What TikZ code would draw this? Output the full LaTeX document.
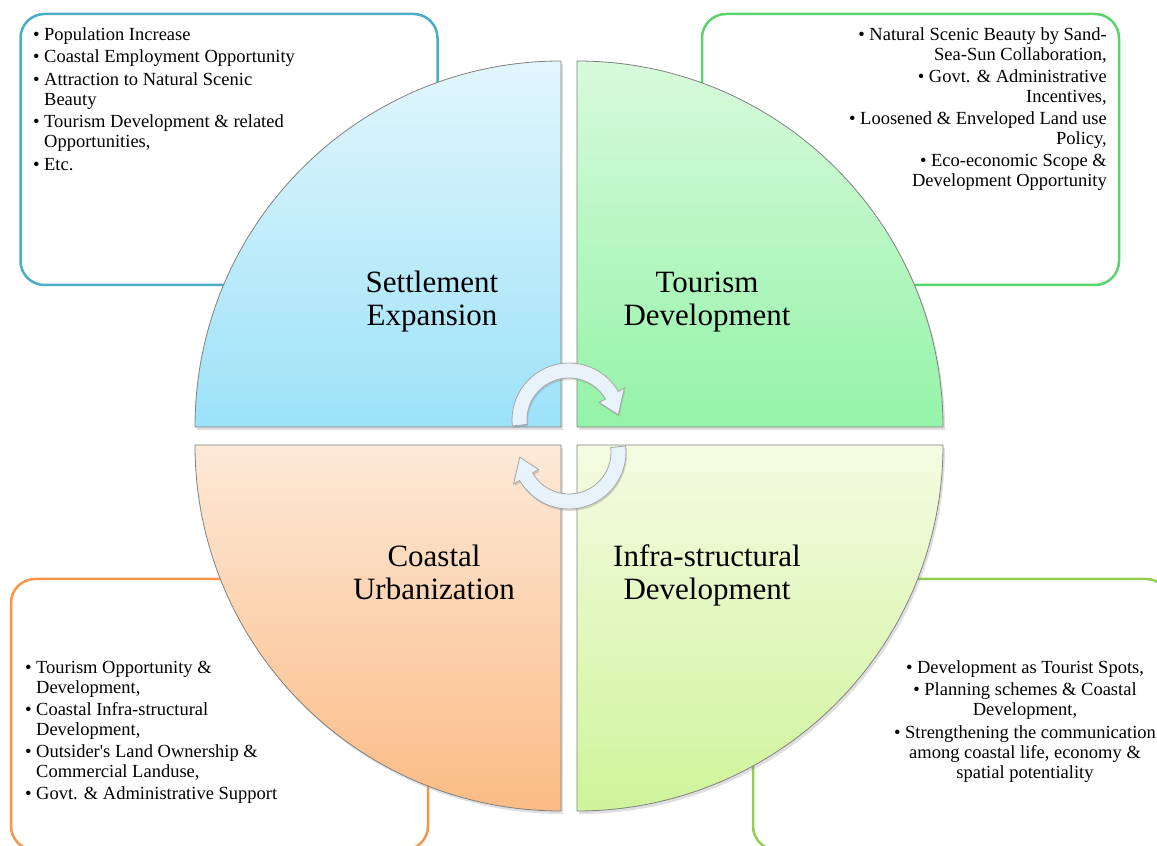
\documentclass[tikz,border=0pt]{standalone}
\usepackage{fontspec}
\setmainfont{Liberation Serif}
\usepackage{tikz}
\usetikzlibrary{shadows}

\definecolor{settleline}{HTML}{4BACC6}
\definecolor{tourline}{HTML}{5AD46C}
\definecolor{urbanline}{HTML}{F79646}
\definecolor{infraline}{HTML}{92D050}
\definecolor{settletop}{HTML}{E2F6FC}
\definecolor{settlebot}{HTML}{9CE2F9}
\definecolor{tourtop}{HTML}{D8FADC}
\definecolor{tourbot}{HTML}{94F3A8}
\definecolor{urbantop}{HTML}{FDE9D8}
\definecolor{urbanbot}{HTML}{FBBB84}
\definecolor{infratop}{HTML}{F4FBE2}
\definecolor{infrabot}{HTML}{CFF49A}
\definecolor{turnfill}{HTML}{E8F2FA}

\newcommand{\listfont}{\fontsize{18.5}{20}\selectfont}
\newcommand{\headfont}{\fontsize{31}{33}\selectfont}

\begin{document}
\begin{tikzpicture}[x=1pt, y=1pt,
  infobox/.style={draw, line width=2.5pt, rounded corners=24pt, fill=white,
    minimum width=417, minimum height=271, inner sep=0pt},
  quad/.style={draw=black!50, line width=0.8pt,
    drop shadow={shadow xshift=2pt, shadow yshift=-3pt, opacity=0.25}},
  turn/.style={fill=turnfill, draw=black!35, line width=0.8pt,
    drop shadow={shadow xshift=1pt, shadow yshift=-2pt, opacity=0.3}},
  head/.style={inner sep=0pt, font=\headfont},
  items/.style={inner sep=0pt, font=\listfont}]

\useasboundingbox (0,0) rectangle (1157,846);
\clip (0,0) rectangle (1157,846);

% boxes behind the circle
\node[infobox, draw=settleline] (settlebox) at (229,696.5) {};
\node[infobox, draw=tourline] (tourbox) at (910.5,696.5) {};
\node[infobox, draw=urbanline] (urbanbox) at (219.5,131.5) {};
\node[infobox, draw=infraline] (infrabox) at (961.5,131.5) {};

% the four quarters
\path[quad, top color=settletop, bottom color=settlebot]
  (561,419) -- (195,419) arc[start angle=180, end angle=90, radius=366] -- cycle;
\path[quad, top color=tourtop, bottom color=tourbot]
  (577,419) -- (577,785) arc[start angle=90, end angle=0, radius=366] -- cycle;
\path[quad, top color=urbantop, bottom color=urbanbot]
  (561,401) -- (561,35) arc[start angle=270, end angle=180, radius=366] -- cycle;
\path[quad, top color=infratop, bottom color=infrabot]
  (577,401) -- (943,401) arc[start angle=0, end angle=-90, radius=366] -- cycle;

% turning arrows
\begin{scope}[shift={(569,426)}]
  \path[turn] (186:57) arc[start angle=186, end angle=30, radius=57] -- (30:64)
    -- (6:49.5) -- (30:35) -- (30:42) arc[start angle=30, end angle=186, radius=42] -- cycle;
\end{scope}
\begin{scope}[shift={(569,394)}, rotate=180]
  \path[turn] (186:57) arc[start angle=186, end angle=30, radius=57] -- (30:64)
    -- (6:49.5) -- (30:35) -- (30:42) arc[start angle=30, end angle=186, radius=42] -- cycle;
\end{scope}

\node[head] (settle) at (432,544) {\begin{tabular}{@{}c@{}}Settlement\\Expansion\end{tabular}};
\node[head] (tour) at (707,544) {\begin{tabular}{@{}c@{}}Tourism\\Development\end{tabular}};
\node[head] (urban) at (434,270) {\begin{tabular}{@{}c@{}}Coastal\\Urbanization\end{tabular}};
\node[head] (infra) at (707,270) {\begin{tabular}{@{}c@{}}Infra-structural\\Development\end{tabular}};

\node[items, anchor=north west] (settlelist) at (33,820) {\begin{tabular}{@{}l@{\hspace{4.5pt}}l@{}}
  \textbullet & Population Increase\\[2.5pt]
  \textbullet & Coastal Employment Opportunity\\[2.5pt]
  \textbullet & Attraction to Natural Scenic\\
              & Beauty\\[2.5pt]
  \textbullet & Tourism Development \& related\\
              & Opportunities,\\[2.5pt]
  \textbullet & Etc.
\end{tabular}};

\node[items, anchor=north east] (tourlist) at (1107,820) {\begin{tabular}{@{}r@{}}
  \textbullet{} Natural Scenic Beauty by Sand-\\
  Sea-Sun Collaboration,\\[2pt]
  \textbullet{} Govt. \& Administrative\\
  Incentives,\\[2pt]
  \textbullet{} Loosened \& Enveloped Land use\\
  Policy,\\[2pt]
  \textbullet{} Eco-economic Scope \&\\
  Development Opportunity
\end{tabular}};

\node[items, anchor=north west] (urbanlist) at (25,187) {\begin{tabular}{@{}l@{\hspace{4.5pt}}l@{}}
  \textbullet & Tourism Opportunity \&\\
              & Development,\\[2pt]
  \textbullet & Coastal Infra-structural\\
              & Development,\\[2pt]
  \textbullet & Outsider\textquotesingle s Land Ownership \&\\
              & Commercial Landuse,\\[2pt]
  \textbullet & Govt. \& Administrative Support
\end{tabular}};

\node[items, anchor=north] (infralist) at (1025,187) {\begin{tabular}{@{}c@{}}
  \textbullet{} Development as Tourist Spots,\\[2.5pt]
  \textbullet{} Planning schemes \& Coastal\\
  Development,\\[2.5pt]
  \textbullet{} Strengthening the communication\\
  among coastal life, economy \&\\
  spatial potentiality
\end{tabular}};

\end{tikzpicture}
\end{document}
